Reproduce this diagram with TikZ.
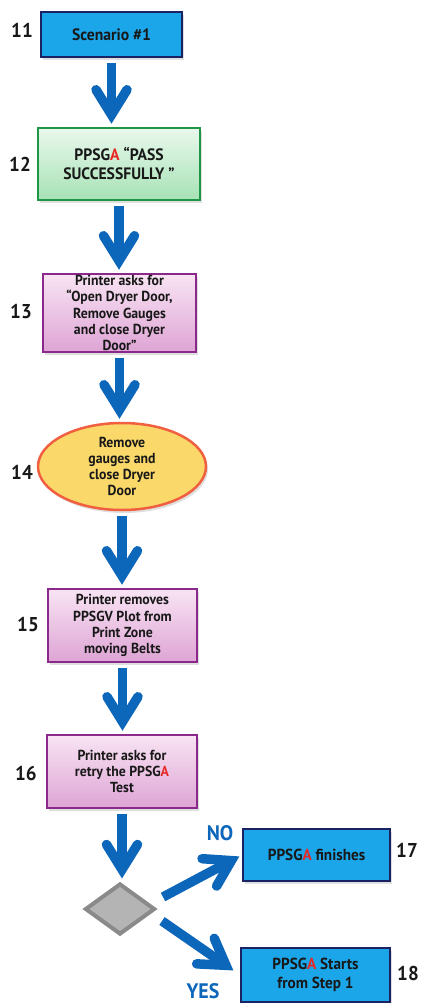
\documentclass[tikz,border=0pt]{standalone}
\usepackage{fontspec}
\setmainfont[FakeStretch=0.95]{PT Sans}
\usepackage{tikz}
\usetikzlibrary{shapes.geometric,arrows.meta,shadows,calc,positioning}

\definecolor{flowblue}{RGB}{12,102,186}
\definecolor{boxblue}{RGB}{28,166,234}
\definecolor{navy}{RGB}{26,34,100}
\definecolor{okgreen}{RGB}{30,150,70}
\definecolor{okgreenlight}{RGB}{234,248,237}
\definecolor{okgreendark}{RGB}{166,226,181}
\definecolor{plum}{RGB}{138,40,140}
\definecolor{pinklight}{RGB}{248,228,243}
\definecolor{pinkdark}{RGB}{222,164,213}
\definecolor{ovalyellow}{RGB}{250,216,106}
\definecolor{ovalred}{RGB}{240,96,64}
\definecolor{diagrey}{RGB}{180,180,180}
\definecolor{diaedge}{RGB}{138,138,138}
\definecolor{hpred}{RGB}{232,40,36}
\definecolor{ink}{RGB}{24,24,24}

\newcommand{\redA}{\textcolor{hpred}{A}}

\tikzset{
    step text/.style={text=ink, font=\bfseries\fontsize{14.5}{16.2}\selectfont, align=center, inner sep=0pt},
    bluebox/.style={step text, rectangle, draw=navy, line width=2pt, fill=boxblue,
        drop shadow={opacity=0.25, shadow xshift=2pt, shadow yshift=-3pt}},
    greenbox/.style={step text, rectangle, draw=okgreen, line width=2.5pt,
        top color=okgreenlight, bottom color=okgreendark,
        drop shadow={opacity=0.25, shadow xshift=2pt, shadow yshift=-3pt}},
    pinkbox/.style={step text, rectangle, draw=plum, line width=2.5pt,
        top color=pinklight, bottom color=pinkdark,
        drop shadow={opacity=0.25, shadow xshift=2pt, shadow yshift=-3pt}},
    ovalbox/.style={step text, ellipse, draw=ovalred, line width=2.5pt, fill=ovalyellow,
        drop shadow={opacity=0.25, shadow xshift=2pt, shadow yshift=-3pt}},
    decision/.style={diamond, draw=diaedge, line width=4pt, fill=diagrey, inner sep=0pt,
        minimum width=70pt, minimum height=51pt},
    flow/.style={draw=flowblue, line width=9.5pt,
        -{Straight Barb[length=25pt, width=31pt, line cap=round, line join=miter]},
        shorten <=5pt, shorten >=3pt},
    num/.style={text=ink, font=\bfseries\fontsize{20}{20}\selectfont, inner sep=0pt},
    answer/.style={text=flowblue, font=\bfseries\fontsize{21}{21}\selectfont, inner sep=0pt}
}

\begin{document}
\begin{tikzpicture}[x=1pt, y=-1pt]
    \useasboundingbox (0,0) rectangle (421,1003);

    % main column of steps
    \node[bluebox, minimum width=141pt, minimum height=45pt,
          font=\bfseries\fontsize{16.5}{19}\selectfont] (n11) at (111.5,34.5) {Scenario \#1};
    \node[greenbox, minimum width=162pt, minimum height=72pt,
          font=\bfseries\fontsize{16.5}{19}\selectfont] (n12) at (119,164)
          {PPSG\redA{} “PASS\\SUCCESSFULLY ”};
    \node[pinkbox, minimum width=153pt, minimum height=78pt] (n13) at (119.5,313)
          {Printer asks for\\“Open Dryer Door,\\Remove Gauges\\and close Dryer\\Door”};
    \node[ovalbox, minimum width=168pt, minimum height=87pt] (n14) at (122,466.5)
          {Remove\\gauges and\\close Dryer\\Door};
    \node[pinkbox, minimum width=149pt, minimum height=73pt] (n15) at (122.5,625.5)
          {Printer removes\\PPSGV Plot from\\Print Zone\\moving Belts};
    \node[pinkbox, minimum width=150pt, minimum height=73pt] (n16) at (122,771.5)
          {Printer asks for\\retry the PPSG\redA\\Test};
    \node[decision] (dec) at (120,909) {};

    % the two outcomes
    \node[bluebox, minimum width=147pt, minimum height=52pt,
          font=\bfseries\fontsize{16}{19}\selectfont] (n17) at (316.5,855) {PPSG\redA{} finishes};
    \node[bluebox, minimum width=149pt, minimum height=54pt,
          font=\bfseries\fontsize{16}{19}\selectfont] (n18) at (315.5,975)
          {PPSG\redA{} Starts\\from Step 1};

    % step numbers
    \node[num] (l11) at (22,30) {11};
    \node[num] (l12) at (20,164) {12};
    \node[num] (l13) at (21,312) {13};
    \node[num] (l14) at (22,472) {14};
    \node[num] (l15) at (28,625) {15};
    \node[num] (l16) at (26,773) {16};
    \node[num] (l17) at (407,850) {17};
    \node[num] (l18) at (408,973) {18};

    % arrows down the column
    \draw[flow] (n11.south) -- (n11.south |- n12.north);
    \draw[flow] (n12.south) -- (n12.south |- n13.north);
    \draw[flow] (n13.south) -- (n13.south |- n14.north);
    \draw[flow] (n14.south) -- (n14.south |- n15.north);
    \draw[flow] (n15.south) -- (n15.south |- n16.north);
    \draw[flow] (n16.south) -- (n16.south |- dec.north);

    % branches out of the decision
    \coordinate (no0) at ([shift={(6,-12)}]dec.east);
    \coordinate (yes0) at ([shift={(5,12)}]dec.east);
    \draw[flow, shorten <=0pt] (no0) -- (n17.west);
    \draw[flow, shorten <=0pt, shorten >=8pt] (yes0) -- (n18.west);
    \node[answer] (no) at (220,833) {NO};
    \node[answer] (yes) at (203,991) {YES};
\end{tikzpicture}
\end{document}
